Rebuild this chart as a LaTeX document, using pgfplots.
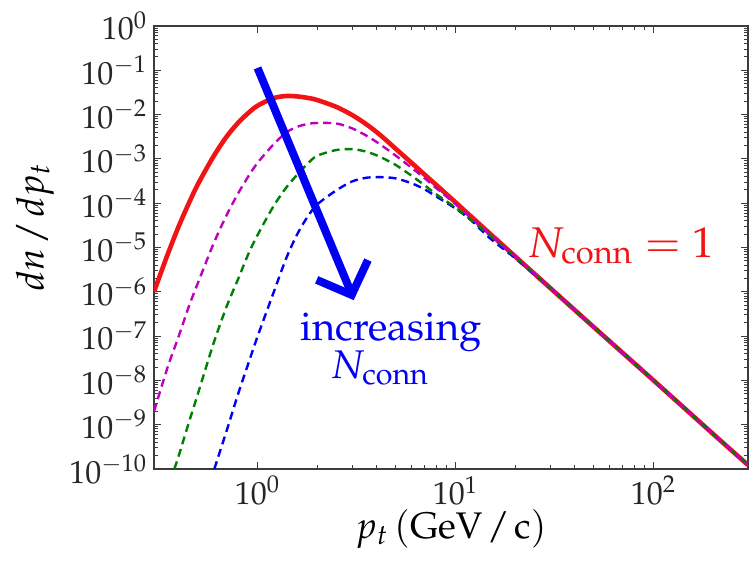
\documentclass[border=0pt]{standalone}
\usepackage[T1]{fontenc}
\usepackage{mathpazo}
\usepackage{pgfplots}
\pgfplotsset{compat=1.18}
\definecolor{cred}{RGB}{240,20,20}
\definecolor{cmag}{RGB}{191,0,191}
\definecolor{cgreen}{RGB}{0,128,0}
\definecolor{cblue}{RGB}{0,0,245}
\definecolor{axgray}{RGB}{60,60,60}
\begin{document}
\begin{tikzpicture}
\begin{axis}[
  scale only axis, width=297pt, height=221.5pt,
  xmode=log, ymode=log,
  xmin=0.3, xmax=300, ymin=1e-10, ymax=1,
  xtick={1,10,100},
  ytick={1e-10,1e-9,1e-8,1e-7,1e-6,1e-5,1e-4,1e-3,1e-2,1e-1,1},
  axis line style={axgray, line width=0.6pt},
  tick style={axgray, line width=0.5pt},
  major tick length=3.5pt, minor tick length=2pt, tick align=inside,
  tick label style={font=\fontsize{16}{18}\selectfont, text=black!85},
  xlabel={$p_t\,(\mathrm{GeV}\mkern2mu/\mkern2mu\mathrm{c})$},
  ylabel={$dn\mkern2mu/\mkern2mu dp_t$},
  x label style={font=\fontsize{18.5}{22}\selectfont, at={(axis description cs:0.5,-0.158)}, anchor=base},
  y label style={font=\fontsize{19}{22}\selectfont, at={(axis description cs:-0.2003,0.546)}, anchor=center},
]
\addplot[cred, line width=2.3pt, smooth] coordinates {
(0.3,1.0e-6) (0.35,6.61e-6) (0.4,3.02e-5) (0.45,1.0e-4) (0.5,2.69e-4)
(0.6,1.148e-3) (0.7,3.236e-3) (0.8,6.607e-3) (0.9,1.096e-2) (1.0,1.585e-2)
(1.2,2.344e-2) (1.4,2.63e-2) (1.6,2.559e-2) (1.8,2.377e-2) (2.0,2.133e-2)
(2.5,1.493e-2) (3.0,9.817e-3) (3.5,6.295e-3) (4.0,4.009e-3) (4.5,2.559e-3)
(5.0,1.675e-3) (6.0,8.128e-4) (7.0,4.365e-4) (8.0,2.57e-4) (10,1.047e-4)
(12,4.98e-5) (15,2.014e-5) (20,6.31e-6) (30,1.23e-6) (50,1.585e-7)
(100,1.0e-8) (200,6.166e-10) (300,1.23e-10)
};
\addplot[cblue, line width=1.2pt, smooth, dash pattern=on 4pt off 2.5pt] coordinates {
(0.605,1.0e-10) (0.7,7.586e-10) (0.8,5.129e-9) (0.9,2.455e-8) (1.0,9.772e-8)
(1.2,9.12e-7) (1.4,5.888e-6) (1.6,2.138e-5) (1.8,5.129e-5) (2.0,9.333e-5)
(2.5,1.95e-4) (3.0,3.09e-4) (3.5,3.715e-4) (4.0,3.89e-4) (4.5,3.802e-4)
(5.0,3.631e-4) (6.0,2.818e-4) (7.0,2.042e-4) (8.0,1.413e-4) (10,7.586e-5)
(12,4.074e-5) (15,1.585e-5) (20,5.754e-6) (30,1.23e-6) (50,1.585e-7)
(100,1.0e-8) (200,6.166e-10) (300,1.23e-10)
};
\addplot[cgreen, line width=1.2pt, smooth, dash pattern=on 4pt off 2.5pt] coordinates {
(0.38,1.0e-10) (0.4,1.995e-10) (0.45,1.122e-9) (0.5,5.012e-9) (0.6,6.918e-8)
(0.7,4.786e-7) (0.8,1.995e-6) (0.9,7.244e-6) (1.0,1.905e-5) (1.2,8.318e-5)
(1.4,2.291e-4) (1.6,4.571e-4) (1.8,7.943e-4) (2.0,1.175e-3) (2.5,1.585e-3)
(3.0,1.66e-3) (3.5,1.479e-3) (4.0,1.202e-3) (4.5,9.333e-4) (5.0,7.244e-4)
(6.0,4.169e-4) (7.0,2.512e-4) (8.0,1.585e-4) (10,7.943e-5) (12,4.169e-5)
(15,1.82e-5) (20,6.166e-6) (30,1.23e-6) (50,1.585e-7) (100,1.0e-8)
(200,6.166e-10) (300,1.23e-10)
};
\addplot[cmag, line width=1.2pt, smooth, dash pattern=on 4pt off 2.5pt] coordinates {
(0.3,1.995e-9) (0.35,1.862e-8) (0.4,1.0e-7) (0.45,4.677e-7) (0.5,1.585e-6)
(0.6,1.23e-5) (0.7,5.495e-5) (0.8,1.698e-4) (0.9,4.074e-4) (1.0,8.128e-4)
(1.2,2.089e-3) (1.4,3.981e-3) (1.6,5.37e-3) (1.8,6.166e-3) (2.0,6.457e-3)
(2.5,6.31e-3) (3.0,4.898e-3) (3.5,3.467e-3) (4.0,2.399e-3) (4.5,1.66e-3)
(5.0,1.175e-3) (6.0,6.31e-4) (7.0,3.631e-4) (8.0,2.188e-4) (10,9.55e-5)
(12,4.677e-5) (15,1.95e-5) (20,6.31e-6) (30,1.23e-6) (50,1.585e-7)
(100,1.0e-8) (200,6.166e-10) (300,1.23e-10)
};
\draw[cblue, line width=4pt] (axis cs:1,0.113) -- (axis cs:2.93,1.1e-6);
\draw[cblue, line width=4pt, line join=miter] (axis cs:1.99,1.86e-6) -- (axis cs:2.99,8.5e-7) -- (axis cs:3.61,5.2e-6);
\node[text=cblue, anchor=base, inner sep=0pt, font=\fontsize{20}{24}\selectfont] at (axis cs:4.72,7.76e-8) {increasing};
\node[text=cblue, anchor=base, inner sep=0pt, font=\fontsize{20}{24}\selectfont] at (axis cs:4.15,1.076e-8) {$N_{\mathrm{conn}}$};
\node[text=cred, anchor=base west, inner sep=0pt, font=\fontsize{21.5}{26}\selectfont] at (axis cs:23.0,6.1e-6) {$N_{\mathrm{conn}} = 1$};
\end{axis}
\pgfresetboundingbox
\path[use as bounding box] ([shift={(-77pt,-48pt)}]current axis.south west) rectangle ([shift={(2.5pt,13pt)}]current axis.north east);
\end{tikzpicture}
\end{document}
